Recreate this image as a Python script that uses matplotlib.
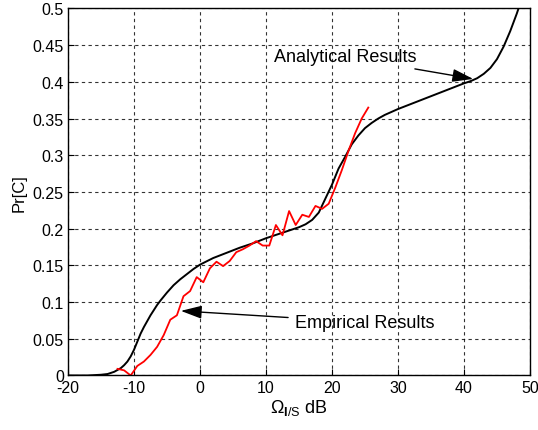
import numpy as np
import matplotlib.pyplot as plt
from matplotlib.ticker import FormatStrFormatter

plt.rcParams['font.family'] = ['Liberation Sans', 'DejaVu Sans']
plt.rcParams['mathtext.fontset'] = 'custom'
plt.rcParams['mathtext.rm'] = 'Liberation Sans'
plt.rcParams['mathtext.it'] = 'Liberation Sans'
plt.rcParams['mathtext.bf'] = 'Liberation Sans:bold'
plt.rcParams['axes.unicode_minus'] = False

# analytical curve (black)
ana_x = [-20, -17, -15, -14, -13, -12, -11.5, -11, -10.5, -10, -9.5, -9, -8.5, -8,
         -7.5, -7, -6.5, -6, -5, -4, -3, -2, -1,
         0, 2, 4, 6, 8, 10, 12, 14, 15, 16, 17, 18, 19, 20, 21, 22, 23, 24, 25, 26,
         27, 28, 30, 32, 34, 36, 38, 40, 41, 42, 43, 44, 45, 46, 47, 48, 48.3]
ana_y = [0, 0, 0.001, 0.002, 0.005, 0.01, 0.014, 0.019, 0.026, 0.035, 0.046, 0.057,
         0.066, 0.074, 0.082, 0.089, 0.096, 0.102, 0.113, 0.123, 0.131, 0.138, 0.145,
         0.151, 0.16, 0.167, 0.174, 0.18, 0.187, 0.193, 0.199, 0.202, 0.206, 0.212,
         0.222, 0.241, 0.26, 0.282, 0.298, 0.315, 0.327, 0.337, 0.344,
         0.35, 0.355, 0.363, 0.37, 0.377, 0.384, 0.391, 0.398, 0.401, 0.405, 0.411,
         0.419, 0.431, 0.448, 0.469, 0.493, 0.501]

# empirical curve (red)
emp_x = np.arange(-12.5, 26, 1.0)
emp_y = [0.009, 0.007, 0.0, 0.013, 0.019, 0.028, 0.039, 0.055, 0.076, 0.082,
         0.108, 0.115, 0.134, 0.127, 0.146, 0.155, 0.149, 0.156, 0.168, 0.172,
         0.177, 0.183, 0.177, 0.177, 0.205, 0.191, 0.224, 0.205, 0.219, 0.216,
         0.231, 0.227, 0.234, 0.256, 0.28, 0.306, 0.33, 0.35, 0.365]

fig = plt.figure(figsize=(5.38, 4.31), dpi=100)
ax = fig.add_axes([0.1264, 0.1265, 0.8587, 0.8515])

ax.plot(ana_x, ana_y, color='k', lw=1.4)
ax.plot(emp_x, emp_y, color='r', lw=1.3)

ax.set_xlim(-20, 50)
ax.set_ylim(0, 0.5)
ax.set_xticks(np.arange(-20, 51, 10))
ax.set_yticks(np.arange(0, 0.501, 0.05))
ax.yaxis.set_major_formatter(FormatStrFormatter('%g'))
ax.tick_params(direction='in', labelsize=11.5, length=4, width=0.8, pad=3)
ax.grid(True, color='k', linestyle=(0, (3, 3)), lw=0.8, alpha=0.8)
for s in ax.spines.values():
    s.set_linewidth(1.0)

ax.set_xlabel(r'$\Omega_{\mathbf{I}\mathrm{/S}}$ dB', fontsize=13, labelpad=2)
ax.set_ylabel('Pr[C]', fontsize=12, labelpad=4)

arrow = dict(arrowstyle='-|>,head_length=0.8,head_width=0.25', color='k', lw=1.0,
             mutation_scale=16, shrinkA=3, shrinkB=0)
ax.annotate('Analytical Results', xy=(41.4, 0.404), xytext=(32.8, 0.434),
            ha='right', va='center', fontsize=13, arrowprops=arrow)
ax.annotate('Empirical Results', xy=(-2.9, 0.088), xytext=(14.4, 0.0725),
            ha='left', va='center', fontsize=13, arrowprops=arrow)

fig.savefig('out.png', dpi=100)
